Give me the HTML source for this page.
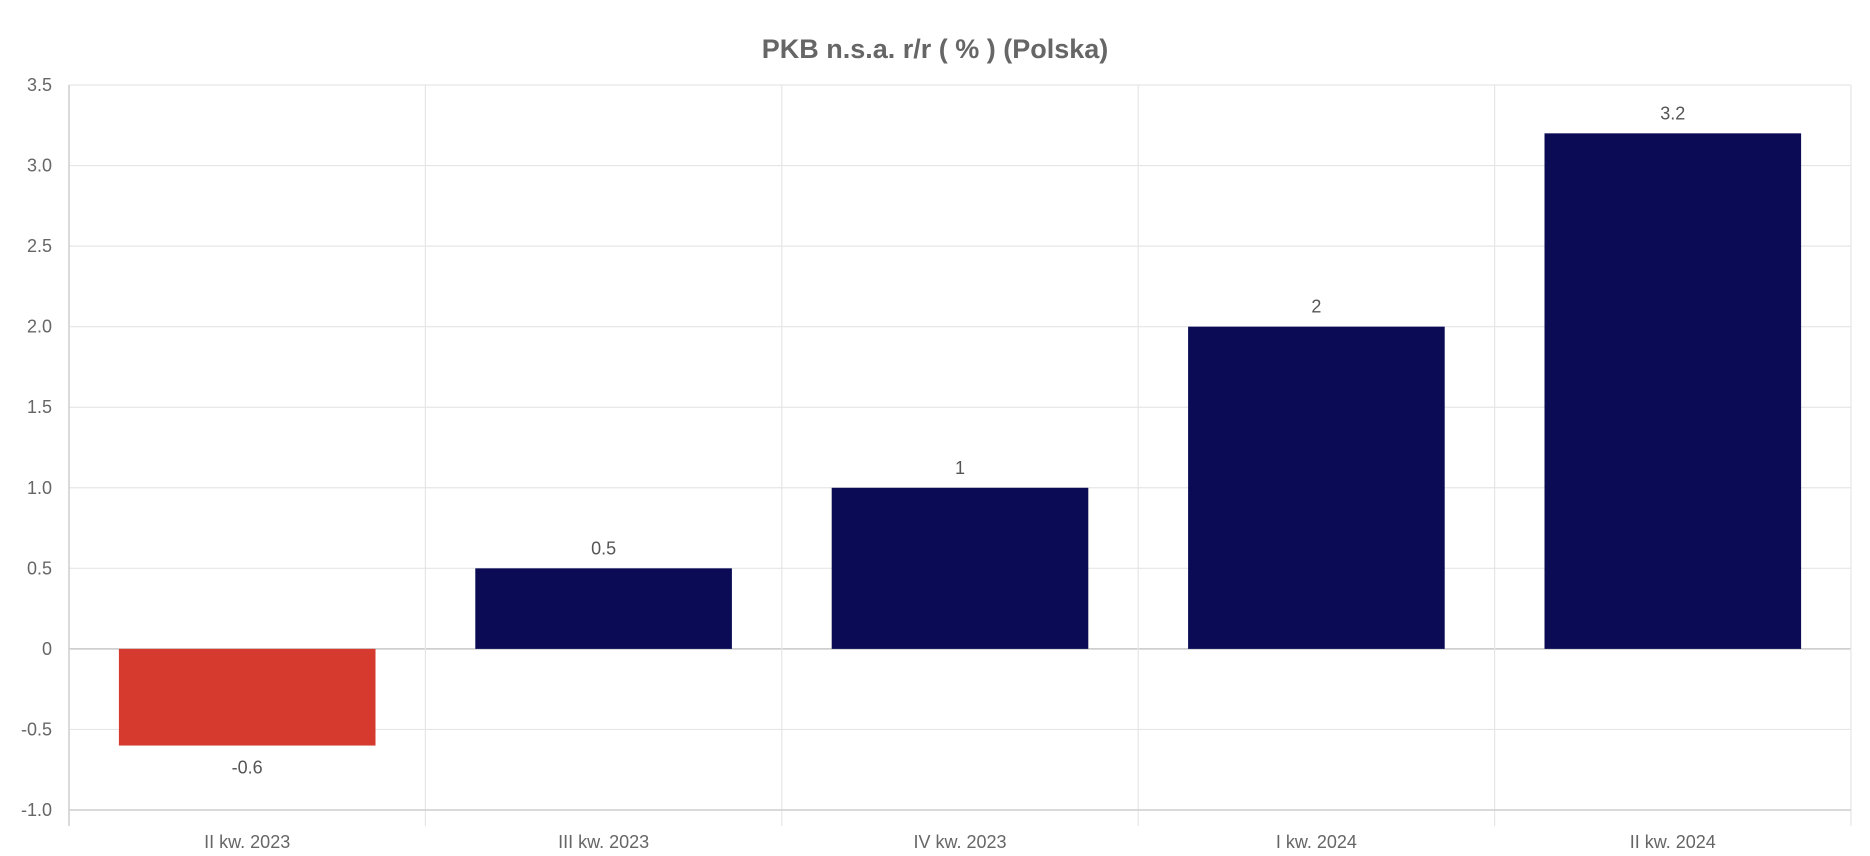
<!DOCTYPE html>
<html><head><meta charset="utf-8"><style>
html,body{margin:0;padding:0;background:#fff;}
svg{display:block;font-family:"Liberation Sans",Arial,sans-serif;}
</style></head><body>
<svg id="chart" width="1870" height="856">
<text x="935" y="58" text-anchor="middle" font-size="27" font-weight="bold" fill="#666">PKB n.s.a. r/r ( % ) (Polska)</text>
<g id="grid"></g><g id="bars"></g><g id="labels"></g>
</svg>
<script>
const categories=["II kw. 2023","III kw. 2023","IV kw. 2023","I kw. 2024","II kw. 2024"];
const values=[-0.6,0.5,1,2,3.2];
const valueLabels=["-0.6","0.5","1","2","3.2"];
const yTicks=[-1,-0.5,0,0.5,1,1.5,2,2.5,3,3.5];
const yTickLabels=["-1.0","-0.5","0","0.5","1.0","1.5","2.0","2.5","3.0","3.5"];
const NS="http://www.w3.org/2000/svg";
const L=69,R=1851,T=85,B=810,yMin=-1,yMax=3.5;
const y=v=>B-(v-yMin)/(yMax-yMin)*(B-T);
const bw=(R-L)/categories.length;
const x=i=>L+i*bw;
function mk(tag,attrs,parent){const e=document.createElementNS(NS,tag);for(const k in attrs)e.setAttribute(k,attrs[k]);document.getElementById(parent).appendChild(e);return e;}
yTicks.forEach((t,i)=>{
 const l=mk('line',{x1:L,x2:R,y1:y(t),y2:y(t),stroke:t===0?'#c8c8c8':'#e6e6e6','stroke-width':t===0?1.5:1.2},'grid');
 
 
 const tx=mk('text',{x:52,y:y(t)+6,'text-anchor':'end','font-size':18,fill:'#666'},'labels');
 tx.textContent=yTickLabels[i];
 
 
});
for(let i=0;i<=categories.length;i++){
 const l=mk('line',{x1:x(i),x2:x(i),y1:T,y2:826,stroke:'#e6e6e6','stroke-width':1.2},'grid');
 
 
}
const ax=mk('line',{x1:L,x2:R,y1:B,y2:B,stroke:'#d0d0d0','stroke-width':1.5},'grid');


const ay=mk('line',{x1:L,x2:L,y1:T,y2:826,stroke:'#d0d0d0','stroke-width':1.5},'grid');


categories.forEach((c,i)=>{
 const v=values[i],w=bw*0.72,bx=x(i)+(bw-w)/2;
 const top=Math.min(y(v),y(0)),h=Math.abs(y(v)-y(0));
 const r=mk('rect',{x:bx,y:top,width:w,height:h,fill:v<0?'#d63a2f':'#0a0a55'},'bars');
 
 
 const vl=mk('text',{x:x(i)+bw/2,y:v<0?y(v)+28:y(v)-14,'text-anchor':'middle','font-size':18,fill:'#555'},'labels');
 vl.textContent=valueLabels[i];
 
 
 const cl=mk('text',{x:x(i)+bw/2,y:848,'text-anchor':'middle','font-size':18,fill:'#666'},'labels');
 cl.textContent=c;
 
 
});
</script>
</body></html>
